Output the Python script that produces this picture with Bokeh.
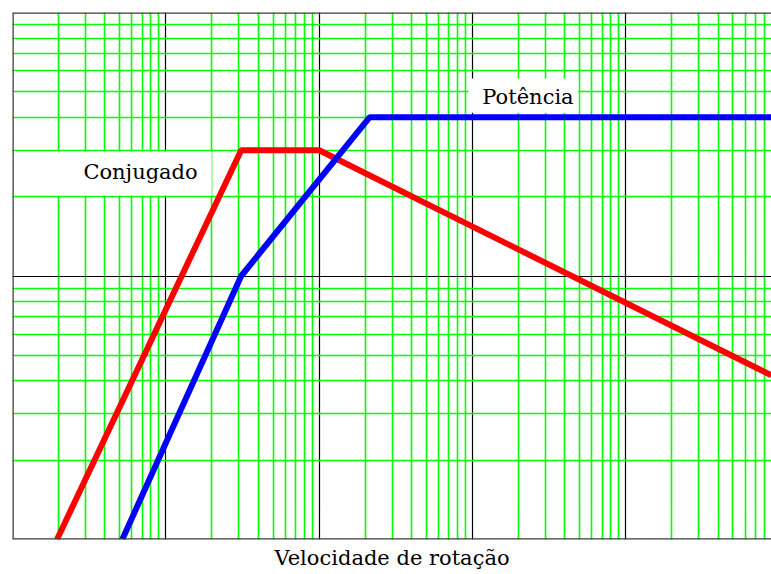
from bokeh.plotting import figure
from bokeh.models import Range1d, FixedTicker, Span, Label, BoxAnnotation, Title
from bokeh.embed import file_html
from bokeh.resources import INLINE

# Schematic values (log-log)
conj_speed = [1.95, 31, 100, 89000]
conj_value = [1.0, 30, 30, 4.2]
pot_speed = [5.2, 31, 213, 89000]
pot_value = [1.0, 10, 40, 40]

x_major = [1, 10, 100, 1000, 10000, 100000]
x_minor = [m * 10 ** k for k in range(5) for m in range(2, 10)]
y_major = [1, 10, 100]
y_minor = [m * 10 ** k for k in range(2) for m in range(2, 10)]

FONT = "DejaVu Serif"
GREEN = "#00FF00"

p = figure(width=771, height=574, x_axis_type="log", y_axis_type="log",
           x_range=Range1d(1, 10 ** (759 / 153.33)), y_range=Range1d(1, 100),
           output_backend="svg", toolbar_location=None,
           min_border_left=12, min_border_right=0, min_border_top=12, min_border_bottom=34)
p.outline_line_color = None
p.background_fill_color = "white"
p.border_fill_color = "white"

p.xaxis.visible = False
p.yaxis.visible = False
p.xgrid.ticker = FixedTicker(ticks=x_major, minor_ticks=x_minor)
p.ygrid.ticker = FixedTicker(ticks=y_major, minor_ticks=y_minor)
for g in (p.xgrid, p.ygrid):
    g.grid_line_color = "black"
    g.grid_line_width = 1.2
    g.minor_grid_line_color = GREEN
    g.minor_grid_line_width = 1.6

p.add_layout(Title(text="Velocidade de rotação", align="center", text_font=FONT,
                   text_font_size="21px", text_font_style="normal", text_color="black",
                   offset=0, standoff=9), "below")

# frame border (left, top, bottom)
for loc, dim in ((1, "height"), (1, "width"), (100, "width")):
    p.add_layout(Span(location=loc, dimension=dim, line_color="#3a3a3a", line_width=2.5))

p.line(conj_speed, conj_value, line_color="#FF0000", line_width=6)
p.line(pot_speed, pot_value, line_color="#0000FF", line_width=6)

# white backgrounds behind the two curve names
p.add_layout(BoxAnnotation(left=1.9, right=19.9, bottom=20.2, top=29.7,
                           fill_color="white", fill_alpha=1, line_color=None))
p.add_layout(BoxAnnotation(left=942, right=4900, bottom=41.6, top=56.2,
                           fill_color="white", fill_alpha=1, line_color=None))

p.add_layout(Label(x=6.84, y=24.8, text="Conjugado", text_align="center",
                   text_baseline="middle", text_font=FONT, text_font_size="21px",
                   text_color="black"))
p.add_layout(Label(x=2301, y=47.6, text="Potência", text_align="center",
                   text_baseline="middle", text_font=FONT, text_font_size="21px",
                   text_color="black"))

open("out.html", "w").write(file_html(p, INLINE))
